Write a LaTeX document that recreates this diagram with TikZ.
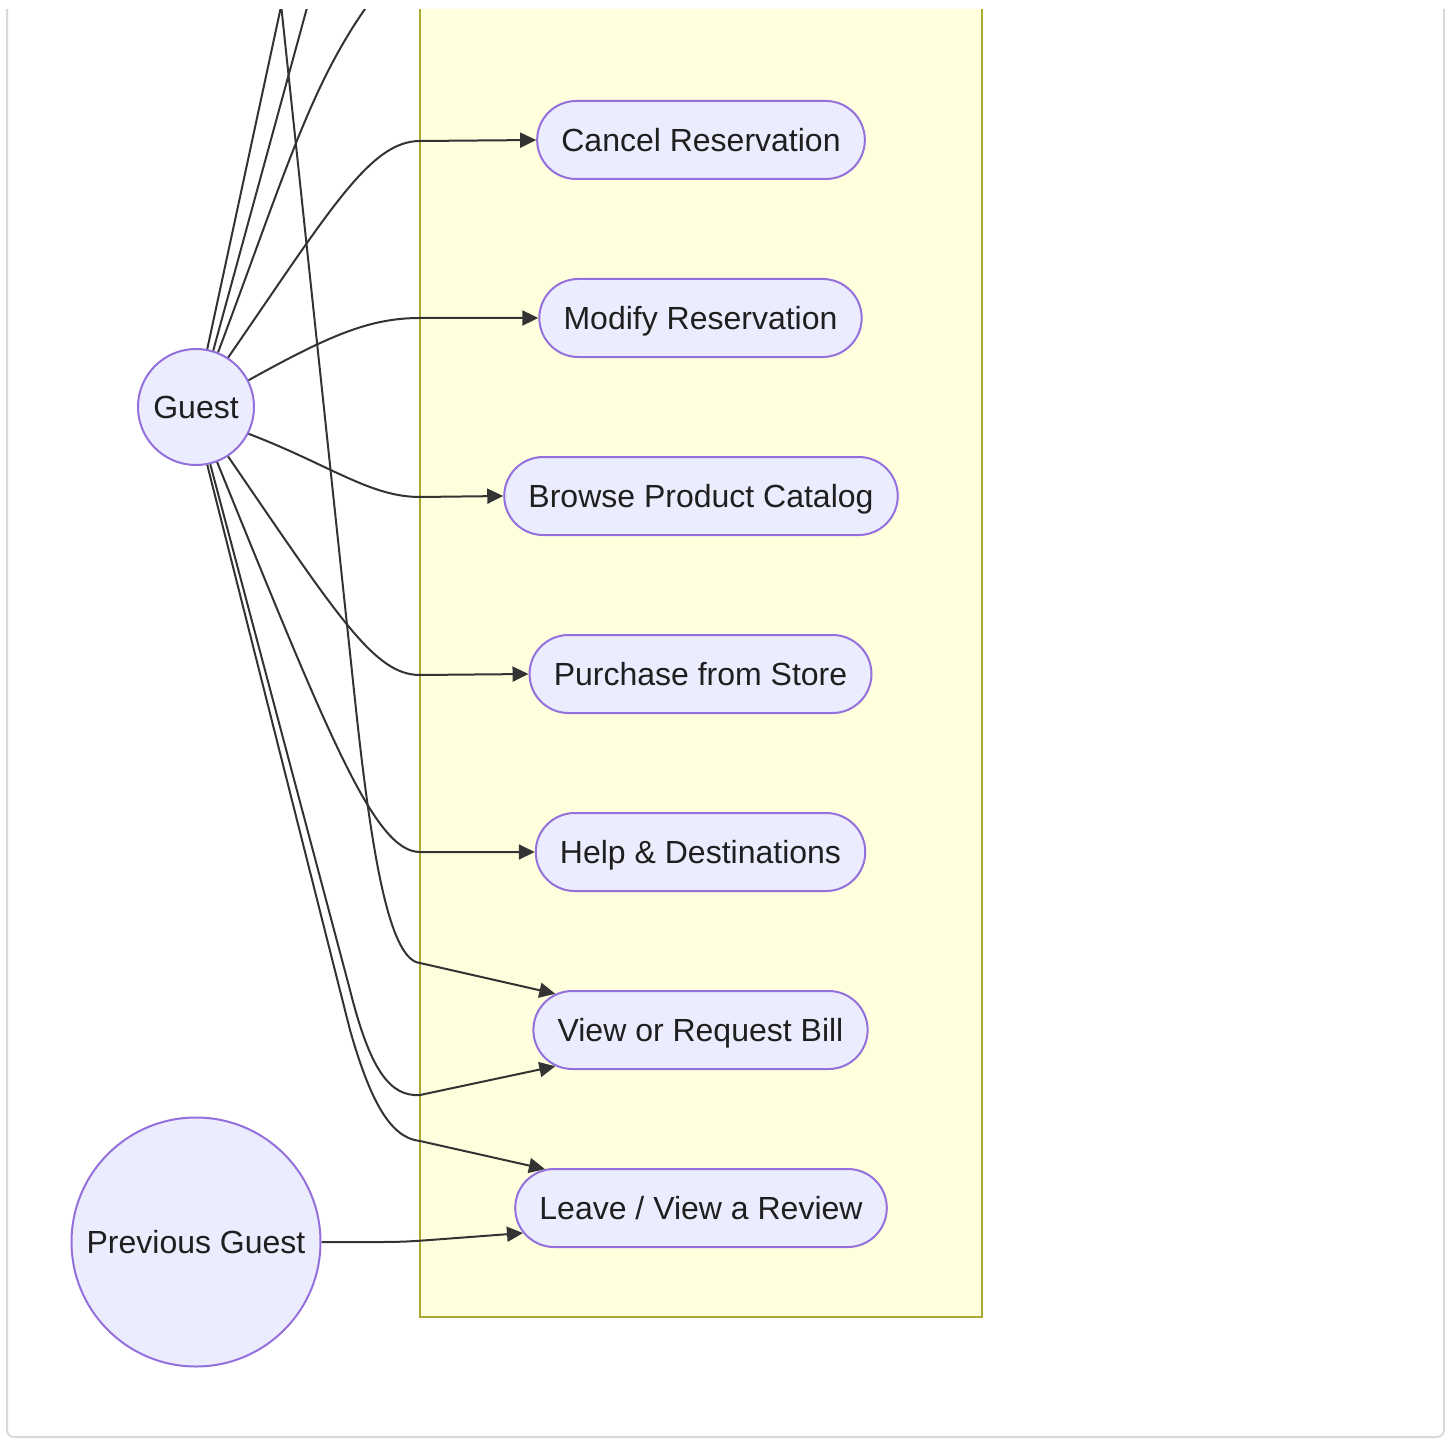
\documentclass[tikz,border=0pt]{standalone}
\usepackage{fontspec}
\setmainfont{Liberation Sans}
\usetikzlibrary{arrows.meta,shapes.misc}
\definecolor{nodefill}{HTML}{ECECFF}
\definecolor{nodeline}{HTML}{9370DB}
\definecolor{boxfill}{HTML}{FFFFDE}
\definecolor{boxline}{HTML}{AAAA33}
\definecolor{edgecol}{HTML}{333333}
\definecolor{textcol}{HTML}{1F1F1F}
\definecolor{framecol}{HTML}{D9D9D9}

\begin{document}
\begin{tikzpicture}[x=1pt,y=-1pt,
  usecase/.style={rounded rectangle, draw=nodeline, fill=nodefill, line width=2pt,
    minimum height=78pt, inner xsep=22.5pt, inner ysep=0pt,
    text height=23pt, text depth=0pt,
    font=\fontsize{32}{38}\selectfont, text=textcol},
  actor/.style={circle, draw=nodeline, fill=nodefill, line width=2pt, inner sep=0pt,
    text height=23pt, text depth=0pt,
    font=\fontsize{32}{38}\selectfont, text=textcol},
  link/.style={draw=edgecol, line width=2pt, -{Triangle[length=16pt,width=15pt]}},
  plainlink/.style={draw=edgecol, line width=2pt}]

\useasboundingbox (0,0) rectangle (1451,1439);

\begin{scope}
\clip (0,10) rectangle (1451,1439);

% outer frame
\draw[framecol, line width=2pt, rounded corners=7pt] (7,-40) rectangle (1444,1437);

% system boundary
\draw[boxline, fill=boxfill, line width=2pt] (420,-40) rectangle (982,1317);

% actors
\node[actor, minimum size=116pt] (g) at (196,407) {Guest};
\node[actor, minimum size=249pt] (pg) at (196,1242) {Previous Guest};

% use cases
\node[usecase] (cr) at (701,140) {Cancel Reservation};
\node[usecase] (mr) at (700.5,318) {Modify Reservation};
\node[usecase] (bp) at (701,496) {Browse Product Catalog};
\node[usecase] (ps) at (700.5,674) {Purchase from Store};
\node[usecase] (hd) at (700.5,852) {Help \& Destinations};
\node[usecase] (vb) at (700.5,1030) {View or Request Bill};
\node[usecase] (lr) at (701,1208) {Leave / View a Review};

% free ends of connectors running off the top
\coordinate (upA) at (283.5,-5);
\coordinate (upB) at (310.5,-5);
\coordinate (upC) at (375,-5);
\coordinate (upD) at (279.5,-10);

% connectors leaving upwards
\draw[plainlink] (g.79) -- (upA);
\draw[plainlink] (g.73) -- (upB);
\draw[plainlink] (g.68) .. controls (290,160) and (312,80) .. (upC);

% Guest to the use cases
\draw[link] (g.57) .. controls (330,210) and (370,141) .. (420,141) -- (cr.west);
\draw[link] (g.27) .. controls (330,335) and (370,318) .. (420,318) -- (mr.west);
\draw[link] (g.-27) .. controls (330,465) and (370,497) .. (420,497) -- (bp.west);
\draw[link] (g.-57) .. controls (340,620) and (375,675) .. (420,675) -- (ps.west);
\draw[link] (g.-69) .. controls (330,740) and (375,852) .. (420,852) -- (hd.west);
\draw[link] (g.-76) -- (350,990) .. controls (370,1070) and (390,1097) .. (420,1095) -- (vb.194);
\draw[link] (g.-79) -- (350,1030) .. controls (370,1100) and (390,1138) .. (420,1141) -- (lr.166);

% connector entering from above
\draw[link] (upD) -- (355,700) .. controls (372,860) and (390,960) .. (420,963) -- (vb.166);

% Previous Guest
\draw[link] (pg.east) -- (380,1242) .. controls (405,1242) and (415,1241) .. (430,1240) -- (lr.188);
\end{scope}
\end{tikzpicture}
\end{document}
